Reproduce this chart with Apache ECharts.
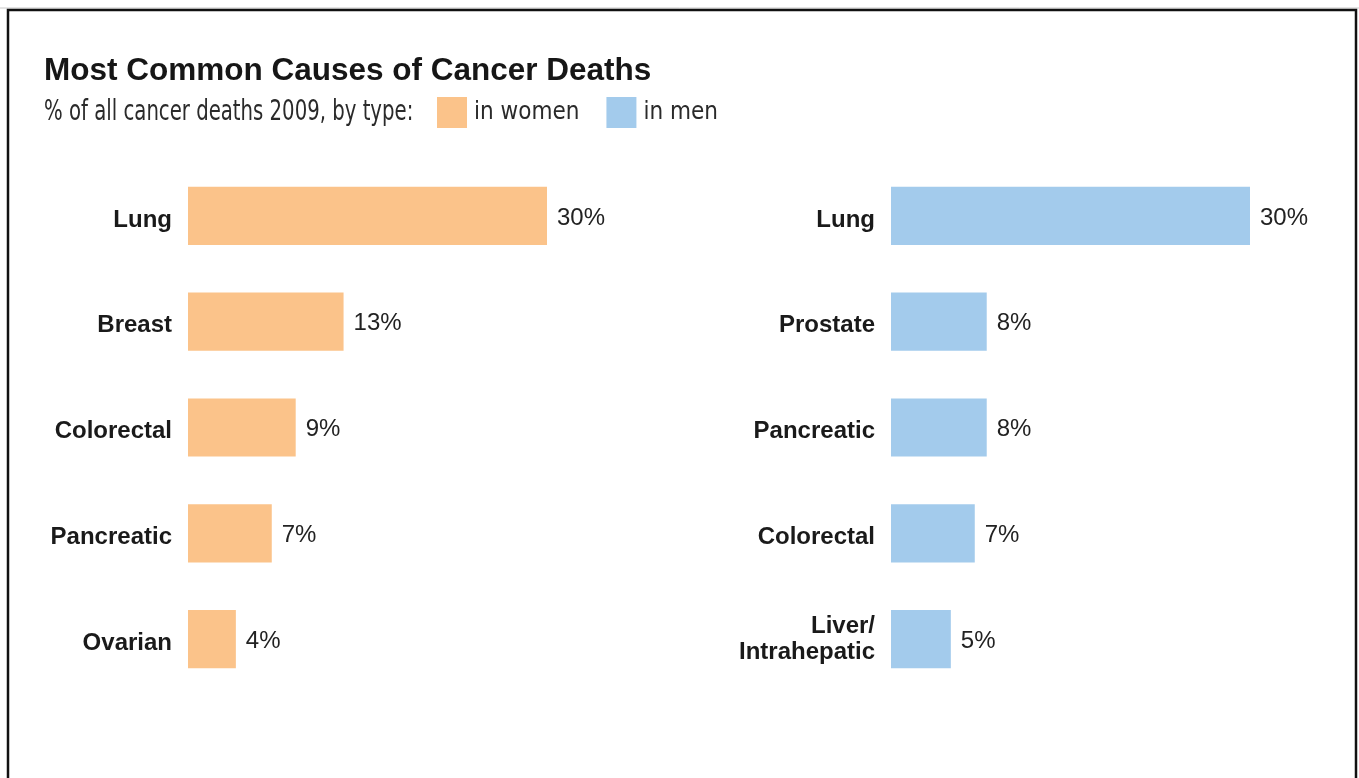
<!DOCTYPE html>
<html>
<head>
<meta charset="utf-8">
<script src="https://cdn.jsdelivr.net/npm/echarts@6/dist/echarts.min.js"></script>
<style>
  html, body { margin: 0; padding: 0; background: #fff; }
  #chart { width: 1359px; height: 778px; }
</style>
</head>
<body>
<div id="chart"></div>
<script>
// Share of all cancer deaths in 2009 (%), by cancer type
const womenCategories = ['Lung', 'Breast', 'Colorectal', 'Pancreatic', 'Ovarian'];
const womenValues = [30, 13, 9, 7, 4];
const menCategories = ['Lung', 'Prostate', 'Pancreatic', 'Colorectal', 'Liver/\nIntrahepatic'];
const menValues = [30, 8, 8, 7, 5];

const WOMEN_COLOR = '#FBC38A';
const MEN_COLOR = '#A3CBEC';
const LABEL_FONT = '"Liberation Sans", Arial, sans-serif';
const NARROW_FONT = '"DejaVu Sans Condensed", "Liberation Sans Narrow", sans-serif';

const chart = echarts.init(document.getElementById('chart'), null, { renderer: 'canvas' });

const catText = {
  color: '#1a1a1a',
  fontFamily: LABEL_FONT,
  fontWeight: 'bold',
  fontSize: 24,
  align: 'right'
};

// single-line names sit a little below the bar's centre line;
// two-line names are centred on it
function categoryLabel(v) {
  const lines = v.split('\n');
  if (lines.length === 1) return '{c|' + v + '}';
  return lines.map(s => '{d|' + s + '}').join('\n');
}

function categoryAxis(idx, data) {
  return {
    type: 'category',
    gridIndex: idx,
    data: data,
    inverse: true,
    axisLine: { show: false },
    axisTick: { show: false },
    splitLine: { show: false },
    axisLabel: {
      margin: 16,
      align: 'right',
      formatter: categoryLabel,
      rich: {
        c: Object.assign({ lineHeight: 18, padding: [8, 0, 0, 0] }, catText),
        d: Object.assign({ lineHeight: 26 }, catText)
      }
    }
  };
}

function valueAxis(idx) {
  return {
    type: 'value',
    gridIndex: idx,
    min: 0,
    max: 30,
    show: false
  };
}

function barSeries(name, idx, values, color) {
  return {
    name: name,
    type: 'bar',
    xAxisIndex: idx,
    yAxisIndex: idx,
    data: values,
    barCategoryGap: '45%',
    itemStyle: { color: color },
    label: {
      show: true,
      position: 'right',
      distance: 10,
      offset: [0, 2],
      formatter: '{c}%',
      color: '#222',
      fontFamily: LABEL_FONT,
      fontSize: 24
    },
    emphasis: { disabled: true },
    silent: true
  };
}

chart.setOption({
  animation: false,
  backgroundColor: '#ffffff',
  title: {
    text: 'Most Common Causes of Cancer Deaths',
    left: 44,
    top: 53,
    padding: 0,
    textStyle: {
      fontFamily: LABEL_FONT,
      fontWeight: 'bold',
      fontSize: 31.5,
      lineHeight: 36,
      color: '#161616'
    }
  },
  legend: {
    left: 437,
    top: 97,
    padding: 0,
    itemWidth: 30,
    itemHeight: 31,
    itemGap: 27,
    icon: 'rect',
    selectedMode: false,
    data: ['in women', 'in men'],
    textStyle: {
      fontFamily: NARROW_FONT,
      fontSize: 24,
      color: '#2a2a2a',
      padding: [0, 0, 0, 2]
    }
  },
  grid: [
    { left: 188, top: 163, width: 359, height: 529, containLabel: false },
    { left: 891, top: 163, width: 359, height: 529, containLabel: false }
  ],
  xAxis: [valueAxis(0), valueAxis(1)],
  yAxis: [categoryAxis(0, womenCategories), categoryAxis(1, menCategories)],
  series: [
    barSeries('in women', 0, womenValues, WOMEN_COLOR),
    barSeries('in men', 1, menValues, MEN_COLOR)
  ],
  graphic: [
    {
      // subtitle, set in a condensed face
      type: 'text',
      silent: true,
      x: 44,
      y: 112,
      scaleX: 0.755,
      style: {
        text: '% of all cancer deaths 2009, by type:',
        font: '29px "DejaVu Sans Condensed", sans-serif',
        fill: '#2a2a2a',
        verticalAlign: 'middle',
        align: 'left'
      }
    },
    {
      type: 'line',
      silent: true,
      shape: { x1: 0, y1: 8, x2: 1359, y2: 8 },
      style: { stroke: '#c8c8c8', lineWidth: 1 }
    },
    {
      type: 'rect',
      silent: true,
      shape: { x: 8, y: 10, width: 1348, height: 800 },
      style: { fill: 'none', stroke: '#111', lineWidth: 2.5 }
    }
  ]
});
</script>
</body>
</html>
